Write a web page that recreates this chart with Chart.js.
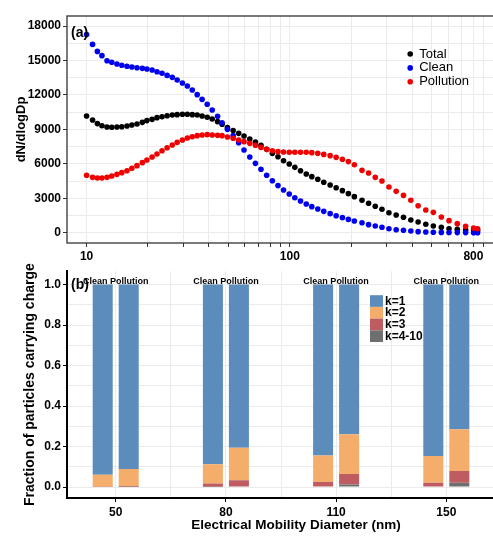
<!DOCTYPE html>
<html>
<head>
<meta charset="utf-8">
<script src="https://cdn.jsdelivr.net/npm/chart.js@4.4.1/dist/chart.umd.min.js"></script>
<style>
  html, body { margin: 0; padding: 0; background: #fff; overflow: hidden; width: 493px; height: 536px; }
  canvas { position: absolute; left: 0; }
  #sizeDist { top: 0; }
  #charge { top: 262px; }
</style>
</head>
<body>
<canvas id="sizeDist" width="500" height="262"></canvas>
<canvas id="charge" width="526" height="274"></canvas>
<script>
const FONT = "'Liberation Sans', Arial, sans-serif";

// (a) number size distribution, dN/dlogDp vs mobility diameter (nm)
const diameters = [10.0, 10.7, 11.3, 11.9, 12.6, 13.3, 14.1, 14.9, 15.8, 16.7,
  17.7, 18.8, 19.8, 21.0, 22.2, 23.5, 24.9, 26.4, 27.9, 29.6,
  31.3, 33.1, 35.0, 37.0, 39.2, 41.5, 44.1, 46.4, 49.3, 52.6,
  56.0, 59.5, 63.5, 67.7, 72.1, 76.9, 82.0, 87.4, 93.1, 99.3,
  105.8, 112.8, 120.4, 128.2, 137.2, 146.8, 157.8, 168.9, 181.3, 194.0,
  207.6, 226.4, 243.9, 263.1, 283.8, 307.2, 333.4, 362.2, 393.6, 427.5,
  466.3, 507.9, 556.0, 606.6, 666.2, 732.3, 801.6, 838.6];
const total = [10160, 9810, 9500, 9320, 9200, 9180, 9200, 9230, 9290, 9380,
  9470, 9610, 9760, 9870, 10020, 10100, 10190, 10250, 10280, 10310,
  10310, 10280, 10250, 10160, 10050, 9900, 9670, 9440, 9150, 8890,
  8650, 8420, 8160, 7900, 7610, 7260, 6910, 6620, 6270, 5980,
  5690, 5400, 5110, 4880, 4650, 4390, 4150, 3920, 3660, 3400,
  3140, 2820, 2560, 2300, 2040, 1740, 1540, 1340, 1110, 930,
  730, 580, 470, 350, 290, 240, 235, 210];
const clean = [17250, 16400, 15790, 15420, 14980, 14840, 14690, 14580, 14490, 14430,
  14370, 14310, 14260, 14170, 14020, 13880, 13700, 13530, 13300, 13040,
  12780, 12430, 12020, 11610, 11180, 10690, 10130, 9580, 9000, 8450,
  7840, 7200, 6590, 6040, 5520, 5000, 4530, 4100, 3720, 3370,
  3050, 2760, 2500, 2270, 2060, 1860, 1660, 1480, 1310, 1160,
  1020, 870, 700, 580, 470, 350, 260, 210, 150, 90,
  60, 40, 25, 15, 10, 8, 6, 5];
const pollution = [5000, 4820, 4760, 4760, 4820, 4940, 5080, 5230, 5400, 5610,
  5840, 6100, 6330, 6590, 6850, 7140, 7400, 7640, 7870, 8070,
  8250, 8360, 8450, 8510, 8540, 8510, 8480, 8450, 8330, 8220,
  8070, 7930, 7780, 7610, 7430, 7260, 7140, 7060, 7030, 7000,
  7000, 7000, 7000, 6970, 6910, 6820, 6710, 6560, 6390, 6190,
  5920, 5430, 5200, 4820, 4500, 3980, 3600, 3250, 2820, 2350,
  1980, 1770, 1370, 1050, 790, 560, 410, 350];
const yTicksA = [0, 3000, 6000, 9000, 12000, 15000, 18000];
const xLabelsA = [10, 100, 800];

// (b) fraction of particles carrying k charges
const sizes = ['50', '80', '110', '150'];
const chargeLabels = ['k=1', 'k=2', 'k=3', 'k=4-10'];
const cleanK1 = [0.939, 0.887, 0.844, 0.847];
const cleanK2 = [0.059, 0.095, 0.131, 0.132];
const cleanK3 = [0.002, 0.016, 0.022, 0.018];
const cleanK4 = [0.000, 0.002, 0.003, 0.003];
const pollK1 = [0.911, 0.806, 0.739, 0.714];
const pollK2 = [0.084, 0.160, 0.197, 0.207];
const pollK3 = [0.004, 0.031, 0.051, 0.058];
const pollK4 = [0.001, 0.003, 0.013, 0.021];

const chargeColors = ['#5b8cbc', '#f4ad6b', '#bf5c62', '#6f6f6f'];
const GRID = '#ebebeb';

function pts(ys) { return ys.map((y, i) => ({ x: diameters[i], y: y })); }

// ---------- panel (a) ----------
const panelA = {
  id: 'panelA',
  afterDraw(chart) {
    const { ctx, chartArea: a } = chart;
    ctx.save();
    ctx.strokeStyle = '#333';
    ctx.lineWidth = 1.3;
    ctx.strokeRect(a.left, a.top, a.right - a.left, a.bottom - a.top);
    ctx.fillStyle = '#000';
    ctx.font = 'bold 14px ' + FONT;
    ctx.textBaseline = 'middle';
    ctx.fillText('(a)', a.left + 4, a.top + 17);
    // legend
    ctx.font = '13px ' + FONT;
    chart.data.datasets.forEach((ds, i) => {
      const y = a.top + 38 + i * 13.9;
      ctx.beginPath();
      ctx.fillStyle = ds.backgroundColor;
      ctx.arc(a.right - 87, y, 2.8, 0, Math.PI * 2);
      ctx.fill();
      ctx.fillStyle = '#000';
      ctx.fillText(ds.label, a.right - 78, y);
    });
    ctx.restore();
  }
};

new Chart(document.getElementById('sizeDist'), {
  type: 'scatter',
  data: {
    datasets: [
      { label: 'Total', data: pts(total), backgroundColor: '#000000', order: 3 },
      { label: 'Clean', data: pts(clean), backgroundColor: '#0000f0', order: 2 },
      { label: 'Pollution', data: pts(pollution), backgroundColor: '#f00000', order: 1 }
    ]
  },
  options: {
    responsive: false,
    animation: false,
    devicePixelRatio: 1,
    layout: { padding: { top: 16, right: 2, left: 0, bottom: 0 } },
    elements: { point: { radius: 2.8, borderWidth: 0, hoverRadius: 2.8 } },
    plugins: { legend: { display: false }, tooltip: { enabled: false } },
    scales: {
      x: {
        type: 'logarithmic',
        min: 8.01,
        max: 1047,
        afterBuildTicks: (s) => {
          const t = [];
          [10, 100].forEach(d => { for (let m = 1; m <= 9; m++) t.push(m * d); });
          t.push(1000);
          s.ticks = t.map(v => ({ value: v }));
        },
        afterFit: (s) => { s.height = 19; },
        grid: { color: GRID, lineWidth: 1, tickLength: 4, tickColor: '#333' },
        border: { display: false },
        ticks: {
          autoSkip: false, maxRotation: 0, padding: 2, color: '#000',
          font: { family: FONT, size: 12, weight: 'bold' },
          callback: (v) => xLabelsA.includes(v) ? String(v) : ''
        }
      },
      y: {
        min: -897,
        max: 18871,
        afterBuildTicks: (s) => {
          const t = [];
          for (let v = 0; v <= 18000; v += 1500) t.push({ value: v });
          s.ticks = t;
        },
        afterFit: (s) => { s.width = 67; },
        grid: {
          color: GRID, lineWidth: 1, tickLength: 4,
          tickColor: (c) => yTicksA.includes(c.tick.value) ? '#333' : 'rgba(0,0,0,0)'
        },
        border: { display: false },
        ticks: {
          padding: 2, color: '#000',
          font: { family: FONT, size: 12, weight: 'bold' },
          callback: (v) => yTicksA.includes(v) ? String(v) : ''
        },
        title: {
          display: true, text: 'dN/dlogDp', color: '#000',
          font: { family: FONT, size: 13, weight: 'bold' },
          padding: { top: 14, bottom: 0 }
        }
      }
    }
  },
  plugins: [panelA]
});

// ---------- panel (b) ----------
const panelB = {
  id: 'panelB',
  afterDraw(chart) {
    const { ctx, chartArea: a, scales } = chart;
    ctx.save();
    ctx.fillStyle = '#000';
    ctx.font = 'bold 14px ' + FONT;
    ctx.textBaseline = 'middle';
    ctx.fillText('(b)', a.left + 4, a.top + 14);
    // condition labels above each pair of bars
    ctx.font = 'bold 9px ' + FONT;
    ctx.textAlign = 'center';
    ctx.textBaseline = 'alphabetic';
    sizes.forEach((s, i) => {
      ctx.fillText('Clean Pollution', scales.x.getPixelForValue(i), scales.y.getPixelForValue(1) - 1);
    });
    // legend
    ctx.textAlign = 'left';
    ctx.textBaseline = 'middle';
    ctx.font = 'bold 12px ' + FONT;
    chargeLabels.forEach((lab, i) => {
      const y0 = a.top + 24 + i * 11.7;
      ctx.fillStyle = chargeColors[i];
      ctx.fillRect(a.left + 303, y0, 13, 11.7);
      ctx.fillStyle = '#000';
      ctx.fillText(lab, a.left + 318, y0 + 6);
    });
    ctx.restore();
  }
};

function bars(label, ys, color, stack) {
  return {
    label: label, stack: stack, backgroundColor: color,
    data: ys.map((y, i) => ({ x: i, y: y })),
    categoryPercentage: 0.944, barPercentage: 0.77
  };
}

new Chart(document.getElementById('charge'), {
  type: 'bar',
  data: {
    datasets: [
      bars('k=4-10', cleanK4, chargeColors[3], 'Clean'),
      bars('k=3', cleanK3, chargeColors[2], 'Clean'),
      bars('k=2', cleanK2, chargeColors[1], 'Clean'),
      bars('k=1', cleanK1, chargeColors[0], 'Clean'),
      bars('k=4-10', pollK4, chargeColors[3], 'Pollution'),
      bars('k=3', pollK3, chargeColors[2], 'Pollution'),
      bars('k=2', pollK2, chargeColors[1], 'Pollution'),
      bars('k=1', pollK1, chargeColors[0], 'Pollution')
    ]
  },
  options: {
    responsive: false,
    animation: false,
    devicePixelRatio: 1,
    layout: { padding: { top: 9, right: 1, left: 0, bottom: 0 } },
    plugins: { legend: { display: false }, tooltip: { enabled: false } },
    scales: {
      x: {
        type: 'linear',
        offset: false,
        min: -0.442,
        max: 3.714,
        afterBuildTicks: (s) => {
          const t = [];
          for (let v = 0; v <= 3.5; v += 0.5) t.push({ value: v });
          s.ticks = t;
        },
        afterFit: (s) => { s.height = 38; },
        grid: {
          offset: false, color: GRID, lineWidth: 1, tickLength: 4,
          tickColor: (c) => Number.isInteger(c.tick.value) ? '#000' : 'rgba(0,0,0,0)'
        },
        border: { display: true, color: '#000', width: 2 },
        ticks: {
          autoSkip: false, maxRotation: 0, padding: 3, color: '#000',
          font: { family: FONT, size: 12, weight: 'bold' },
          callback: (v) => Number.isInteger(v) ? sizes[v] : ''
        },
        title: {
          display: true, text: 'Electrical Mobility Diameter (nm)', color: '#000',
          font: { family: FONT, size: 13.5, weight: 'bold' },
          padding: { top: 0, bottom: 3 }
        }
      },
      y: {
        stacked: true,
        min: -0.054,
        max: 1.066,
        afterBuildTicks: (s) => {
          const t = [];
          for (let i = 0; i <= 10; i++) t.push({ value: i / 10 });
          s.ticks = t;
        },
        afterFit: (s) => { s.width = 67; },
        grid: {
          color: GRID, lineWidth: 1, tickLength: 4,
          tickColor: (c) => Math.round(c.tick.value * 10) % 2 === 0 ? '#000' : 'rgba(0,0,0,0)'
        },
        border: { display: true, color: '#000', width: 2 },
        ticks: {
          padding: 2, color: '#000',
          font: { family: FONT, size: 12, weight: 'bold' },
          callback: (v) => Math.round(v * 10) % 2 === 0 ? v.toFixed(1) : ''
        },
        title: {
          display: true, text: 'Fraction of particles carrying charge', color: '#000',
          font: { family: FONT, size: 14, weight: 'bold' },
          padding: { top: 22, bottom: 0 }
        }
      }
    }
  },
  plugins: [panelB]
});
</script>
</body>
</html>
